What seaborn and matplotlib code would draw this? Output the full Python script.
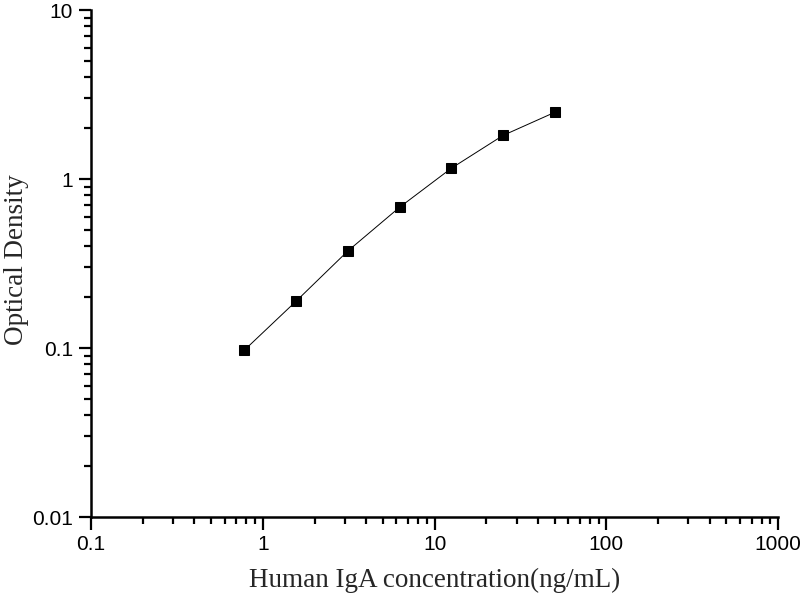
import numpy as np
import pandas as pd
import matplotlib
matplotlib.use('Agg')
import matplotlib.pyplot as plt
import seaborn as sns
from matplotlib.ticker import LogLocator, FixedLocator, FixedFormatter

# standard curve values
conc = [0.78, 1.56, 3.125, 6.25, 12.5, 25, 50]
od = [0.097, 0.189, 0.375, 0.68, 1.157, 1.81, 2.48]

x_ticks = [0.1, 1, 10, 100, 1000]
x_labels = ['0.1', '1', '10', '100', '1000']
y_ticks = [0.01, 0.1, 1, 10]
y_labels = ['0.01', '0.1', '1', '10']

df = pd.DataFrame({'conc': conc, 'od': od})

sns.set_style('ticks')
plt.rcParams['font.family'] = ['Liberation Sans', 'DejaVu Sans']

fig = plt.figure(figsize=(8, 6), dpi=100)
ax = fig.add_axes([0.11375, 0.1383, 0.859, 0.845])

sns.lineplot(data=df, x='conc', y='od', color='black', linewidth=0.7,
             marker='s', markersize=7.5, markeredgecolor='black', ax=ax)

ax.set_xscale('log')
ax.set_yscale('log')
ax.set_xlim(0.1, 1000)
ax.set_ylim(0.01, 10)

ax.xaxis.set_major_locator(FixedLocator(x_ticks))
ax.xaxis.set_major_formatter(FixedFormatter(x_labels))
ax.yaxis.set_major_locator(FixedLocator(y_ticks))
ax.yaxis.set_major_formatter(FixedFormatter(y_labels))
ax.xaxis.set_minor_locator(LogLocator(base=10, subs=np.arange(2, 10)))
ax.yaxis.set_minor_locator(LogLocator(base=10, subs=np.arange(2, 10)))
ax.xaxis.set_minor_formatter(plt.NullFormatter())
ax.yaxis.set_minor_formatter(plt.NullFormatter())

ax.tick_params(which='major', length=9, width=1.6, labelsize=15, color='black',
               labelcolor='black', direction='out', pad=4)
ax.tick_params(which='minor', length=5, width=1.6, color='black', direction='out')

sns.despine(ax=ax)
for s in ['left', 'bottom']:
    ax.spines[s].set_linewidth(1.8)
    ax.spines[s].set_color('black')

ax.set_xlabel('Human IgA concentration(ng/mL)', family=['Liberation Serif'],
              fontsize=19.5, labelpad=10)
ax.set_ylabel('Optical Density', family=['Liberation Serif'], fontsize=19.5)
ax.yaxis.set_label_coords(-0.09, 0.508)

fig.savefig('out.png', dpi=100)
